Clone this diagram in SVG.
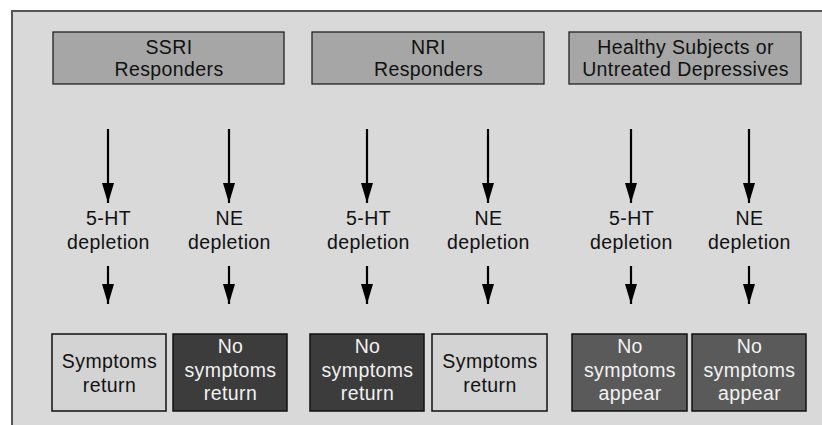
<svg xmlns="http://www.w3.org/2000/svg" width="822" height="425" viewBox="0 0 822 425">
<defs>
<marker id="ah" markerWidth="20" markerHeight="12" refX="20" refY="6" orient="auto" markerUnits="userSpaceOnUse" viewBox="0 0 20 12">
<path d="M0,0 L20,6 L0,12 Z" fill="#000"/>
</marker>
</defs>
<style>
text{font-family:"Liberation Sans",Arial,sans-serif;font-size:19.5px;letter-spacing:0.4px;text-anchor:middle}
.hdr{fill:#a6a6a6;stroke:#222;stroke-width:1.3}
.lt{fill:#d3d3d3;stroke:#111;stroke-width:1.5}
.dk{fill:#3c3c3c;stroke:#111;stroke-width:1.5}
.md{fill:#5a5a5a;stroke:#111;stroke-width:1.5}
.wt{fill:#f2f2f2}
.bk{fill:#111}
.arr{stroke:#000;stroke-width:2.2;marker-end:url(#ah)}
</style>
<rect x="0" y="0" width="822" height="425" fill="#fff"/>
<rect x="12" y="11" width="830" height="430" fill="#d9d9d9" stroke="#555" stroke-width="2"/>

<g id="h1"><rect class="hdr" x="53" y="32" width="231" height="52"/><text class="bk" x="169" y="54">SSRI</text><text class="bk" x="169" y="76">Responders</text></g>
<g id="h2"><rect class="hdr" x="312" y="32" width="232" height="52"/><text class="bk" x="428.5" y="54">NRI</text><text class="bk" x="428.5" y="76">Responders</text></g>
<g id="h3"><rect class="hdr" x="569" y="32" width="232" height="52"/><text class="bk" x="685.5" y="54">Healthy Subjects or</text><text class="bk" x="685.5" y="76">Untreated Depressives</text></g>

<g id="d1"><text class="bk" x="108.5" y="225">5-HT</text><text class="bk" x="108.5" y="249">depletion</text></g>
<g id="d2"><text class="bk" x="229.5" y="225">NE</text><text class="bk" x="229.5" y="249">depletion</text></g>
<g id="d3"><text class="bk" x="368.5" y="225">5-HT</text><text class="bk" x="368.5" y="249">depletion</text></g>
<g id="d4"><text class="bk" x="488.5" y="225">NE</text><text class="bk" x="488.5" y="249">depletion</text></g>
<g id="d5"><text class="bk" x="631.5" y="225">5-HT</text><text class="bk" x="631.5" y="249">depletion</text></g>
<g id="d6"><text class="bk" x="749.5" y="225">NE</text><text class="bk" x="749.5" y="249">depletion</text></g>

<g id="r1"><rect class="lt" x="52" y="334" width="114" height="77"/><text class="bk" x="109.5" y="368">Symptoms</text><text class="bk" x="109.5" y="392">return</text></g>
<g id="r2"><rect class="dk" x="173" y="334" width="114" height="77"/><text class="wt" x="230.5" y="353">No</text><text class="wt" x="230.5" y="377">symptoms</text><text class="wt" x="230.5" y="400">return</text></g>
<g id="r3"><rect class="dk" x="310" y="334" width="114" height="77"/><text class="wt" x="367.5" y="353">No</text><text class="wt" x="367.5" y="377">symptoms</text><text class="wt" x="367.5" y="400">return</text></g>
<g id="r4"><rect class="lt" x="432" y="334" width="115" height="77"/><text class="bk" x="490" y="368">Symptoms</text><text class="bk" x="490" y="392">return</text></g>
<g id="r5"><rect class="md" x="572" y="334" width="115" height="77"/><text class="wt" x="630" y="353">No</text><text class="wt" x="630" y="377">symptoms</text><text class="wt" x="630" y="400">appear</text></g>
<g id="r6"><rect class="md" x="692" y="334" width="114" height="77"/><text class="wt" x="749.5" y="353">No</text><text class="wt" x="749.5" y="377">symptoms</text><text class="wt" x="749.5" y="400">appear</text></g>

<g id="connectors">
<line class="arr" x1="108" y1="129" x2="108" y2="203"/>
<line class="arr" x1="229" y1="129" x2="229" y2="203"/>
<line class="arr" x1="367" y1="129" x2="367" y2="203"/>
<line class="arr" x1="488" y1="129" x2="488" y2="203"/>
<line class="arr" x1="631" y1="129" x2="631" y2="203"/>
<line class="arr" x1="749" y1="129" x2="749" y2="203"/>
<line class="arr" x1="108" y1="266" x2="108" y2="304"/>
<line class="arr" x1="229" y1="266" x2="229" y2="304"/>
<line class="arr" x1="367" y1="266" x2="367" y2="304"/>
<line class="arr" x1="488" y1="266" x2="488" y2="304"/>
<line class="arr" x1="631" y1="266" x2="631" y2="304"/>
<line class="arr" x1="749" y1="266" x2="749" y2="304"/>
</g>
</svg>
